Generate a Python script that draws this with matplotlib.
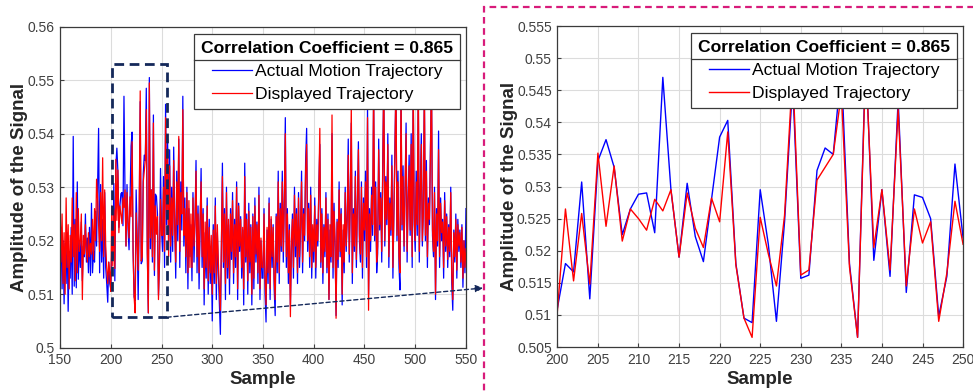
#!/usr/bin/env python3
"""actual vs displayed trajectory, full view plus zoom on samples 200-250"""
import numpy as np
import matplotlib
matplotlib.use("Agg")
import matplotlib.pyplot as plt
from matplotlib.patches import Rectangle
from matplotlib.lines import Line2D

plt.rcParams['font.family'] = ['Liberation Sans', 'DejaVu Sans']

# samples 150..199
actual_a = [0.5155, 0.5225, 0.5110, 0.5200, 0.5082, 0.5195, 0.5120, 0.5215, 0.5068, 0.5180,
            0.5130, 0.5225, 0.5100, 0.5395, 0.5115, 0.5240, 0.5112, 0.5310, 0.5128, 0.5200,
            0.5150, 0.5235, 0.5125, 0.5190, 0.5170, 0.5250, 0.5160, 0.5205, 0.5140, 0.5225,
            0.5135, 0.5270, 0.5140, 0.5180, 0.5160, 0.5255, 0.5190, 0.5300, 0.5410, 0.5140,
            0.5305, 0.5160, 0.5240, 0.5130, 0.5290, 0.5150, 0.5120, 0.5085, 0.5160, 0.5120]
shown_a = [0.5275, 0.5160, 0.5250, 0.5120, 0.5215, 0.5100, 0.5280, 0.5150, 0.5230, 0.5110,
           0.5210, 0.5160, 0.5280, 0.5170, 0.5230, 0.5125, 0.5290, 0.5140, 0.5260, 0.5180,
           0.5200, 0.5250, 0.5090, 0.5210, 0.5175, 0.5230, 0.5180, 0.5160, 0.5215, 0.5170,
           0.5195, 0.5175, 0.5240, 0.5165, 0.5260, 0.5200, 0.5315, 0.5280, 0.5230, 0.5180,
           0.5290, 0.5200, 0.5355, 0.5170, 0.5295, 0.5190, 0.5150, 0.5120, 0.5160, 0.5140]

# samples 200..250 (the zoomed window)
actual_zoom = [0.5110, 0.5180, 0.5167, 0.5307, 0.5125, 0.5340, 0.5373, 0.5330, 0.5225, 0.5265,
               0.5288, 0.5290, 0.5228, 0.5470, 0.5295, 0.5190, 0.5305, 0.5222, 0.5183, 0.5280,
               0.5377, 0.5403, 0.5180, 0.5095, 0.5088, 0.5295, 0.5210, 0.5090, 0.5245, 0.5460,
               0.5157, 0.5162, 0.5325, 0.5360, 0.5350, 0.5485, 0.5180, 0.5065, 0.5505, 0.5185,
               0.5295, 0.5160, 0.5435, 0.5135, 0.5287, 0.5283, 0.5250, 0.5098, 0.5160, 0.5335,
               0.5220]
shown_zoom = [0.5105, 0.5265, 0.5153, 0.5258, 0.5148, 0.5352, 0.5238, 0.5332, 0.5215, 0.5265,
              0.5250, 0.5232, 0.5280, 0.5262, 0.5295, 0.5190, 0.5290, 0.5235, 0.5205, 0.5282,
              0.5245, 0.5385, 0.5178, 0.5095, 0.5065, 0.5252, 0.5195, 0.5145, 0.5255, 0.5480,
              0.5162, 0.5170, 0.5310, 0.5330, 0.5350, 0.5445, 0.5175, 0.5065, 0.5495, 0.5205,
              0.5295, 0.5170, 0.5420, 0.5145, 0.5265, 0.5212, 0.5245, 0.5090, 0.5165, 0.5277,
              0.5210]

# samples 251..550
actual_b = [0.5180, 0.5320, 0.5150, 0.5455, 0.5230, 0.5390, 0.5200, 0.5370, 0.5160,
            0.5300, 0.5180, 0.5375, 0.5240, 0.5130, 0.5330, 0.5200, 0.5390, 0.5150, 0.5310,
            0.5220, 0.5470, 0.5190, 0.5280, 0.5140, 0.5300, 0.5110, 0.5260, 0.5170, 0.5230,
            0.5125, 0.5290, 0.5160, 0.5240, 0.5350, 0.5140, 0.5265, 0.5110, 0.5220, 0.5335,
            0.5150, 0.5260, 0.5080, 0.5215, 0.5130, 0.5280, 0.5100, 0.5240, 0.5120, 0.5190,
            0.5050, 0.5230, 0.5120, 0.5280, 0.5090, 0.5215, 0.5140, 0.5080, 0.5025, 0.5180,
            0.5345, 0.5150, 0.5260, 0.5090, 0.5300, 0.5130, 0.5230, 0.5100, 0.5260, 0.5165,
            0.5290, 0.5120, 0.5240, 0.5150, 0.5310, 0.5090, 0.5270, 0.5180, 0.5245, 0.5130,
            0.5220, 0.5080, 0.5345, 0.5160, 0.5250, 0.5100, 0.5270, 0.5140, 0.5230, 0.5080,
            0.5250, 0.5110, 0.5280, 0.5160, 0.5235, 0.5120, 0.5300, 0.5090, 0.5200, 0.5130,
            0.5130, 0.5260, 0.5100, 0.5048, 0.5220, 0.5120, 0.5280, 0.5090, 0.5240, 0.5150,
            0.5230, 0.5110, 0.5060, 0.5250, 0.5140, 0.5330, 0.5120, 0.5270, 0.5180, 0.5330,
            0.5160, 0.5280, 0.5430, 0.5150, 0.5260, 0.5120, 0.5230, 0.5080, 0.5180, 0.5250,
            0.5130, 0.5300, 0.5170, 0.5260, 0.5120, 0.5290, 0.5150, 0.5220, 0.5330, 0.5140,
            0.5260, 0.5200, 0.5350, 0.5410, 0.5180, 0.5270, 0.5150, 0.5300, 0.5130, 0.5220,
            0.5160, 0.5280, 0.5130, 0.5240, 0.5190, 0.5300, 0.5380, 0.5150, 0.5260, 0.5120,
            0.5230, 0.5170, 0.5290, 0.5140, 0.5250, 0.5090, 0.5220, 0.5160, 0.5400, 0.5130,
            0.5270, 0.5190, 0.5060, 0.5240, 0.5150, 0.5310, 0.5170, 0.5260, 0.5080, 0.5220,
            0.5140, 0.5300, 0.5180, 0.5250, 0.5390, 0.5160, 0.5280, 0.5420, 0.5120, 0.5260,
            0.5180, 0.5330, 0.5150, 0.5270, 0.5385, 0.5200, 0.5160, 0.5310, 0.5130, 0.5280,
            0.5200, 0.5330, 0.5150, 0.5450, 0.5100, 0.5260, 0.5180, 0.5300, 0.5210, 0.5480,
            0.5200, 0.5310, 0.5140, 0.5177, 0.5390, 0.5220, 0.5290, 0.5160, 0.5350, 0.5500,
            0.5190, 0.5320, 0.5230, 0.5400, 0.5150, 0.5280, 0.5210, 0.5360, 0.5130, 0.5260,
            0.5380, 0.5490, 0.5200, 0.5330, 0.5150, 0.5108, 0.5470, 0.5220, 0.5340, 0.5180,
            0.5300, 0.5420, 0.5160, 0.5280, 0.5360, 0.5210, 0.5400, 0.5150, 0.5490, 0.5230,
            0.5180, 0.5330, 0.5210, 0.5490, 0.5160, 0.5300, 0.5400, 0.5190, 0.5260, 0.5480,
            0.5200, 0.5350, 0.5150, 0.5280, 0.5230, 0.5380, 0.5500, 0.5210, 0.5170, 0.5300,
            0.5090, 0.5260, 0.5190, 0.5405, 0.5150, 0.5280, 0.5200, 0.5240, 0.5130, 0.5290,
            0.5180, 0.5250, 0.5150, 0.5230, 0.5170, 0.5300, 0.5120, 0.5070, 0.5220, 0.5160,
            0.5250, 0.5130, 0.5240, 0.5180, 0.5220, 0.5150, 0.5230, 0.5113, 0.5200, 0.5140,
            0.5260]
shown_b = [0.5210, 0.5300, 0.5180, 0.5430, 0.5250, 0.5360, 0.5170, 0.5340, 0.5190,
           0.5280, 0.5210, 0.5350, 0.5220, 0.5160, 0.5310, 0.5230, 0.5395, 0.5180, 0.5290,
           0.5250, 0.5445, 0.5210, 0.5260, 0.5170, 0.5290, 0.5140, 0.5275, 0.5150, 0.5250,
           0.5150, 0.5280, 0.5190, 0.5230, 0.5330, 0.5170, 0.5250, 0.5140, 0.5240, 0.5310,
           0.5170, 0.5250, 0.5110, 0.5235, 0.5150, 0.5265, 0.5125, 0.5225, 0.5140, 0.5210,
           0.5100, 0.5220, 0.5140, 0.5265, 0.5120, 0.5230, 0.5160, 0.5110, 0.5070, 0.5190,
           0.5320, 0.5160, 0.5250, 0.5120, 0.5290, 0.5150, 0.5240, 0.5130, 0.5250, 0.5180,
           0.5275, 0.5140, 0.5230, 0.5170, 0.5300, 0.5110, 0.5265, 0.5190, 0.5240, 0.5150,
           0.5225, 0.5110, 0.5320, 0.5170, 0.5240, 0.5125, 0.5255, 0.5160, 0.5225, 0.5100,
           0.5245, 0.5130, 0.5265, 0.5175, 0.5230, 0.5140, 0.5285, 0.5110, 0.5205, 0.5150,
           0.5150, 0.5250, 0.5130, 0.5080, 0.5225, 0.5140, 0.5270, 0.5110, 0.5245, 0.5170,
           0.5225, 0.5130, 0.5090, 0.5245, 0.5160, 0.5310, 0.5140, 0.5260, 0.5190, 0.5310,
           0.5180, 0.5270, 0.5400, 0.5170, 0.5250, 0.5140, 0.5220, 0.5058, 0.5200, 0.5240,
           0.5150, 0.5285, 0.5190, 0.5250, 0.5140, 0.5280, 0.5170, 0.5230, 0.5310, 0.5160,
           0.5250, 0.5210, 0.5330, 0.5380, 0.5200, 0.5260, 0.5170, 0.5285, 0.5150, 0.5230,
           0.5180, 0.5265, 0.5150, 0.5230, 0.5200, 0.5290, 0.5410, 0.5160, 0.5250, 0.5140,
           0.5225, 0.5180, 0.5280, 0.5150, 0.5240, 0.5090, 0.5230, 0.5170, 0.5435, 0.5150,
           0.5255, 0.5200, 0.5055, 0.5235, 0.5165, 0.5295, 0.5180, 0.5250, 0.5100, 0.5230,
           0.5160, 0.5290, 0.5190, 0.5240, 0.5360, 0.5175, 0.5270, 0.5455, 0.5140, 0.5250,
           0.5190, 0.5320, 0.5165, 0.5260, 0.5370, 0.5210, 0.5175, 0.5300, 0.5150, 0.5270,
           0.5220, 0.5310, 0.5170, 0.5430, 0.5070, 0.5250, 0.5200, 0.5285, 0.5230, 0.5500,
           0.5210, 0.5300, 0.5160, 0.5190, 0.5370, 0.5230, 0.5280, 0.5180, 0.5330, 0.5520,
           0.5200, 0.5310, 0.5240, 0.5380, 0.5170, 0.5270, 0.5220, 0.5340, 0.5150, 0.5250,
           0.5360, 0.5510, 0.5210, 0.5310, 0.5170, 0.5140, 0.5490, 0.5230, 0.5320, 0.5190,
           0.5290, 0.5400, 0.5180, 0.5270, 0.5340, 0.5220, 0.5380, 0.5170, 0.5500, 0.5240,
           0.5200, 0.5310, 0.5230, 0.5510, 0.5180, 0.5285, 0.5380, 0.5200, 0.5250, 0.5500,
           0.5210, 0.5330, 0.5170, 0.5270, 0.5240, 0.5360, 0.5520, 0.5220, 0.5180, 0.5290,
           0.5100, 0.5250, 0.5200, 0.5370, 0.5170, 0.5270, 0.5215, 0.5235, 0.5150, 0.5275,
           0.5190, 0.5245, 0.5165, 0.5225, 0.5180, 0.5290, 0.5140, 0.5090, 0.5215, 0.5170,
           0.5240, 0.5145, 0.5230, 0.5190, 0.5215, 0.5160, 0.5225, 0.5130, 0.5200, 0.5150,
           0.5185]

corr_text = "Correlation Coefficient = 0.865"
labels = ["Actual Motion Trajectory", "Displayed Trajectory"]

actual = np.array(actual_a + actual_zoom + actual_b)
shown = np.array(shown_a + shown_zoom + shown_b)
samples = np.arange(150, 150 + len(actual))
zoom_samples = np.arange(200, 251)

fig = plt.figure(figsize=(9.73, 3.91), dpi=100)
ax1 = fig.add_axes([0.0617, 0.1107, 0.4172, 0.821])
ax2 = fig.add_axes([0.5728, 0.1125, 0.417, 0.821])

TICK = '#404040'


def style(ax):
    ax.grid(True, color='#dcdcdc', lw=0.8)
    ax.set_axisbelow(True)
    for s in ax.spines.values():
        s.set_color('#3a3a3a')
        s.set_linewidth(0.9)
    ax.tick_params(direction='in', length=3, labelsize=10, colors=TICK,
                   labelcolor=TICK, pad=4)
    ax.set_xlabel("Sample", fontsize=13.5, fontweight='bold', labelpad=3,
                  color='#262626')
    ax.set_ylabel("Amplitude of the Signal", fontsize=13.5, fontweight='bold',
                  labelpad=-0.5, color='#262626')


def add_legend(ax, h1, h2):
    leg = ax.legend([h1, h2], labels, loc='upper right',
                    bbox_to_anchor=(0.986, 0.978), fontsize=12.6,
                    title=corr_text,
                    title_fontproperties={'weight': 'bold', 'size': 12.6},
                    fancybox=False, framealpha=1, edgecolor='#3a3a3a',
                    handlelength=2.3, handletextpad=0.15, labelspacing=0.45,
                    borderpad=0.4, borderaxespad=0)
    leg.get_frame().set_linewidth(0.9)
    return leg


# left: full record
b1, = ax1.plot(samples, actual, color='#0000ff', lw=0.9)
r1, = ax1.plot(samples, shown, color='#ff0000', lw=0.9)
ax1.set_xlim(150, 550)
ax1.set_ylim(0.5, 0.56)
ax1.set_xticks(np.arange(150, 551, 50))
yt1 = np.arange(0.5, 0.5601, 0.01)
ax1.set_yticks(yt1)
ax1.set_yticklabels([f'{v:g}' for v in np.round(yt1, 3)])
style(ax1)
leg1 = add_legend(ax1, b1, r1)

# dashed box marking the zoomed window
ax1.add_patch(Rectangle((201.2, 0.5057), 54.2, 0.0473, fill=False,
                        edgecolor='#14285a', lw=2.0, ls=(0, (3.5, 2)),
                        zorder=5))

# right: zoomed window
b2, = ax2.plot(zoom_samples, actual_zoom, color='#0000ff', lw=1.0)
r2, = ax2.plot(zoom_samples, shown_zoom, color='#ff0000', lw=1.0)
ax2.set_xlim(200, 250)
ax2.set_ylim(0.505, 0.555)
ax2.set_xticks(np.arange(200, 251, 5))
yt2 = np.arange(0.505, 0.5551, 0.005)
ax2.set_yticks(yt2)
ax2.set_yticklabels([f'{v:g}' for v in np.round(yt2, 3)])
style(ax2)
leg2 = add_legend(ax2, b2, r2)

# magenta dashed frame around the zoom panel
fig.add_artist(Rectangle((484 / 973, -0.05), 0.55, 1 - 7 / 391 + 0.05,
                         transform=fig.transFigure, fill=False,
                         edgecolor='#d81b7a', lw=1.6, ls=(0, (3, 2))))

# dashed arrow from box to zoom panel
ax1.annotate("", xy=(483 / 973, 1 - 288 / 391), xycoords='figure fraction',
             xytext=(255.4, 0.5057), textcoords='data',
             arrowprops=dict(arrowstyle='-|>', color='#14285a', lw=1.0,
                             ls=(0, (3, 2)), mutation_scale=11,
                             shrinkA=0, shrinkB=0),
             annotation_clip=False)

# separator line under the legend title, as in MATLAB legends
fig.canvas.draw()
inv = fig.transFigure.inverted()
for leg in (leg1, leg2):
    box = leg.get_frame().get_window_extent()
    tb = leg.get_title().get_window_extent()
    eb = leg.get_texts()[0].get_window_extent()
    y = (tb.y0 + tb.y1 + eb.y0 + eb.y1) / 4
    (x0, yy), (x1, _) = inv.transform([(box.x0, y), (box.x1, y)])
    fig.add_artist(Line2D([x0, x1], [yy, yy], color='#3a3a3a', lw=0.9,
                          transform=fig.transFigure))

fig.savefig("out.png", dpi=100)
